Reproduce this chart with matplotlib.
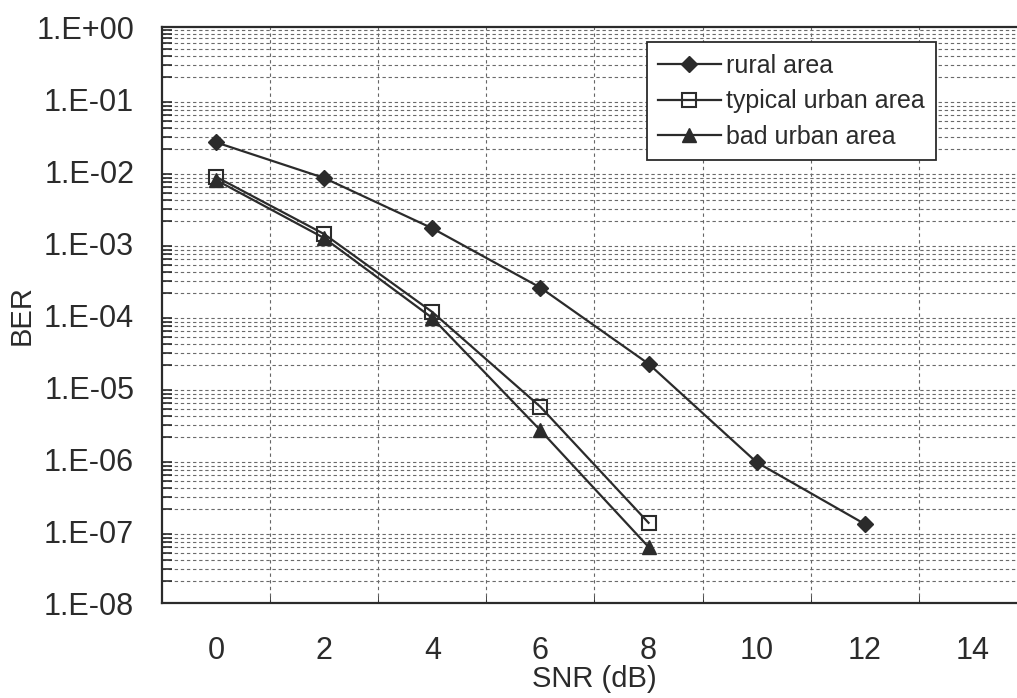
import numpy as np
import matplotlib
matplotlib.use('Agg')
import matplotlib.pyplot as plt
from matplotlib.ticker import FixedLocator, LogLocator, FuncFormatter, NullFormatter

plt.rcParams['font.family'] = ['Liberation Sans', 'DejaVu Sans']

snr_rural = [0, 2, 4, 6, 8, 10, 12]
ber_rural = [2.5e-2, 8.0e-3, 1.6e-3, 2.4e-4, 2.1e-5, 9.0e-7, 1.25e-7]

snr_urban = [0, 2, 4, 6, 8]
ber_typical = [8.3e-3, 1.33e-3, 1.1e-4, 5.3e-6, 1.3e-7]
ber_bad = [7.5e-3, 1.17e-3, 9.1e-5, 2.5e-6, 6.0e-8]

x_ticks = [0, 2, 4, 6, 8, 10, 12, 14]

ink = '#2b2b2b'

fig = plt.figure(figsize=(10.17, 6.98), dpi=100)
# plot area runs a little past the right edge of the page
ax = fig.add_axes([0.1593, 0.1361, 0.8505, 0.8252])

ax.plot(snr_rural, ber_rural, color=ink, lw=1.6, marker='D', ms=8,
        mfc=ink, mec=ink, label='rural area', zorder=5)
ax.plot(snr_urban, ber_typical, color=ink, lw=1.6, marker='s', ms=9.5,
        mfc='none', mec=ink, mew=1.5, label='typical urban area', zorder=5)
ax.plot(snr_urban, ber_bad, color=ink, lw=1.6, marker='^', ms=9.5,
        mfc=ink, mec=ink, label='bad urban area', zorder=6)

ax.set_yscale('log')
ax.set_ylim(1e-8, 1)
ax.set_xlim(-1, 15)

ax.xaxis.set_major_locator(FixedLocator(x_ticks))
ax.xaxis.set_minor_locator(FixedLocator(np.arange(1, 15, 2)))
ax.yaxis.set_major_locator(LogLocator(base=10, numticks=20))
ax.yaxis.set_minor_locator(LogLocator(base=10, subs=np.arange(2, 10), numticks=20))
ax.yaxis.set_major_formatter(FuncFormatter(lambda v, p: '1.E%+03d' % round(np.log10(v))))
ax.yaxis.set_minor_formatter(NullFormatter())

ax.grid(which='minor', axis='x', color='#666666', ls=(0, (3, 3)), lw=0.8)
ax.grid(which='minor', axis='y', color='#6a6a6a', ls=(0, (3, 2.5)), lw=0.8)

ax.tick_params(axis='x', which='major', length=0, pad=24, labelsize=22, labelcolor=ink)
ax.tick_params(axis='x', which='minor', length=5, direction='in', color=ink)
ax.tick_params(axis='y', which='major', length=0, pad=20, labelsize=22, labelcolor=ink)
ax.tick_params(axis='y', which='minor', length=7, width=1.2, direction='in', color=ink)

for side in ['left', 'bottom', 'top']:
    ax.spines[side].set_color(ink)
    ax.spines[side].set_linewidth(1.6)
ax.spines['right'].set_visible(False)

ax.set_xlabel('SNR (dB)', fontsize=21, color=ink)
ax.xaxis.set_label_coords(0.5, -0.108)
ax.set_ylabel('BER', fontsize=21, color=ink)
ax.yaxis.set_label_coords(-0.146, 0.5)

leg = ax.legend(loc='upper left', bbox_to_anchor=(0.5607, 0.9735), fontsize=18,
                frameon=True, fancybox=False, edgecolor=ink, framealpha=1,
                handlelength=2.5, handletextpad=0.2, borderpad=0.45,
                labelspacing=0.47, borderaxespad=0)
leg.get_frame().set_linewidth(1.3)
for t in leg.get_texts():
    t.set_color(ink)

fig.savefig('out.png', dpi=100)
